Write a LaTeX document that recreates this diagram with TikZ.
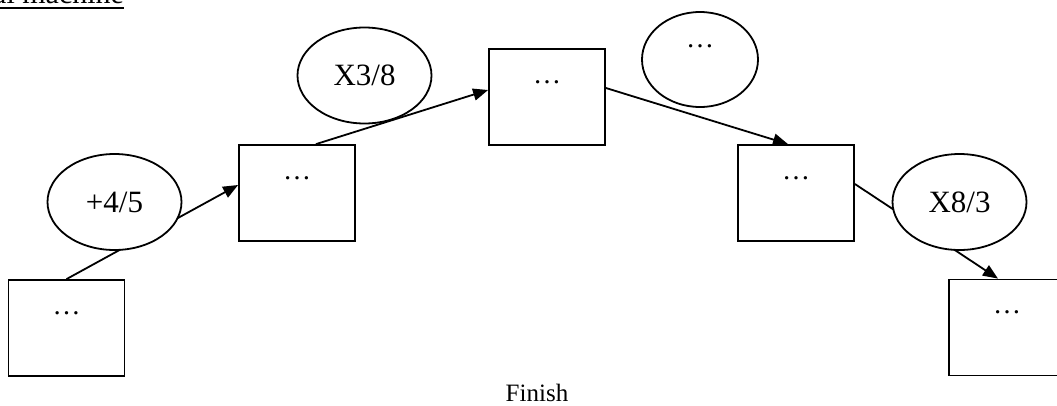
\documentclass[tikz,border=0pt]{standalone}
\usepackage{fontspec}
\setmainfont{Liberation Serif}
\usetikzlibrary{shapes.geometric,arrows.meta}
\begin{document}
\begin{tikzpicture}[x=1pt,y=-1pt,
  stage/.style={draw, line width=1.8pt, minimum width=116pt, minimum height=96pt, inner sep=0pt},
  op/.style={draw, ellipse, line width=1.8pt, minimum width=134pt, minimum height=96pt, inner sep=0pt, font=\fontsize{31}{34}\selectfont},
  dotstext/.style={anchor=base, inner sep=0pt, font=\fontsize{28}{30}\selectfont},
  flow/.style={line width=1.8pt},
  tip/.style={-{Triangle[length=15pt,width=12pt]}}]
\useasboundingbox (0,0) rectangle (1057,405);

% title (partly outside the page), with its underline
\node[anchor=base west, inner sep=0pt, font=\fontsize{30}{32}\selectfont] (title) at (-7,3.3) {al machine};
\draw[line width=2.4pt] ([yshift=-4.4pt]title.base west) -- ([yshift=-4.4pt]title.base east);

% stages
\node[stage] (b1) at (66.5,328) {};
\node[stage] (b2) at (297,193) {};
\node[stage] (b3) at (547,97) {};
\node[stage] (b4) at (796,193) {};
\node[stage] (b5) at (1007,327.5) {};

\node[dotstext] (t1) at ([yshift=-35pt]b1.north) {…};
\node[dotstext] (t2) at ([yshift=-35pt]b2.north) {…};
\node[dotstext] (t3) at ([yshift=-35pt]b3.north) {…};
\node[dotstext] (t4) at ([yshift=-35pt]b4.north) {…};
\node[dotstext] (t5) at ([yshift=-35pt]b5.north) {…};

% operations that sit on top of their connectors
\draw[flow, tip] (b1.north) -- ([yshift=8pt]b2.west);
\draw[flow, tip] ([yshift=9pt]b4.east) -- ([xshift=-9pt]b5.north);
\node[op, fill=white] (e1) at (114.5,202) {+4/5};
\node[op, fill=white] (e4) at (959.5,202) {X8/3};

% operations drawn under their connectors
\node[op] (e2) at (364.5,75.5) {X3/8};
\node[op, minimum width=116pt, minimum height=95pt] (e3) at (700,59.5) {};
\node[dotstext] (t6) at ([yshift=-36pt]e3.north) {…};
\draw[flow, tip] ([xshift=19pt]b2.north) -- ([yshift=7pt]b3.west);
\draw[flow, tip] ([yshift=9pt]b3.east) -- ([xshift=-8pt]b4.north);

\node[anchor=base, inner sep=0pt, font=\fontsize{25}{28}\selectfont] (finish) at (537,401) {Finish};
\end{tikzpicture}
\end{document}
